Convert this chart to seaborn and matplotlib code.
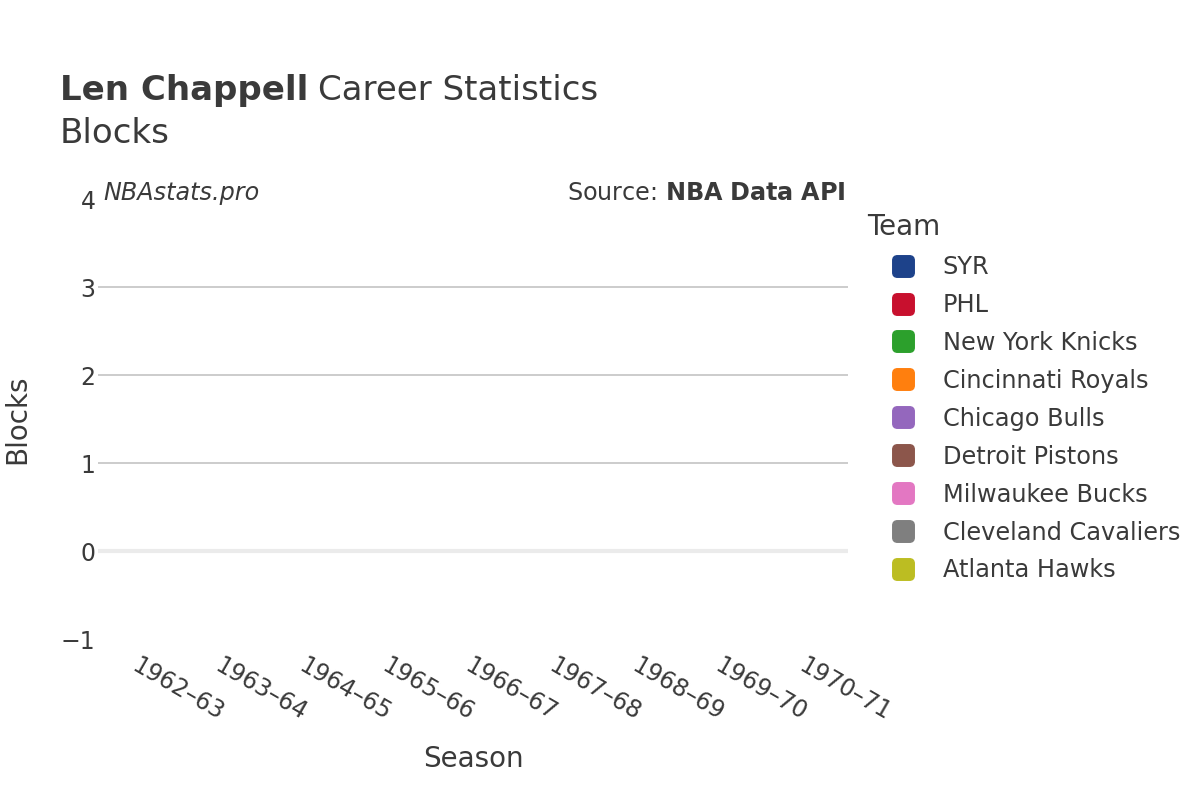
import matplotlib
matplotlib.use("Agg")
import matplotlib.pyplot as plt
from matplotlib.lines import Line2D
from matplotlib.patches import FancyBboxPatch
import numpy as np
import pandas as pd
import seaborn as sns

sns.set_style("white")
plt.rcParams['font.family'] = ['DejaVu Sans']

seasons = ['1962-63', '1963-64', '1964-65', '1965-66', '1966-67',
           '1967-68', '1968-69', '1969-70', '1970-71']
teams = ['SYR', 'PHL', 'New York Knicks', 'Cincinnati Royals', 'Chicago Bulls',
         'Detroit Pistons', 'Milwaukee Bucks', 'Cleveland Cavaliers', 'Atlanta Hawks']
team_colors = ['#1d428a', '#c8102e', '#2ca02c', '#ff7f0e', '#9467bd',
               '#8c564b', '#e377c2', '#7f7f7f', '#bcbd22']
# blocks were not recorded in these seasons -> no values
season_team = ['SYR', 'PHL', 'New York Knicks', 'New York Knicks', 'Chicago Bulls',
               'Cincinnati Royals', 'Milwaukee Bucks', 'Detroit Pistons', 'Cleveland Cavaliers']
blocks = [np.nan] * len(seasons)

df = pd.DataFrame({'Season': seasons, 'Team': season_team, 'Blocks': blocks})

txt = '#3a3a3a'
fig = plt.figure(figsize=(12, 8), dpi=100)
ax = fig.add_axes([0.082, 0.201, 0.625, 0.55])

sns.lineplot(data=df.dropna(), x='Season', y='Blocks', hue='Team',
             palette=dict(zip(teams, team_colors)), ax=ax, legend=False)

ax.set_xlim(-0.5, len(seasons) - 0.5)
ax.set_ylim(-1, 4)
ax.set_xticks(range(len(seasons)))
ax.set_xticklabels([s.replace('-', '–') for s in seasons], rotation=-30,
                   ha='left', va='top', rotation_mode='anchor', fontsize=17, color=txt)
ax.set_yticks([-1, 0, 1, 2, 3, 4])
ax.set_yticklabels(['−1', '0', '1', '2', '3', '4'], fontsize=17, color=txt)
ax.tick_params(axis='y', length=0, pad=2)
ax.tick_params(axis='x', length=0, pad=10)
for s in ax.spines.values():
    s.set_visible(False)
for y in [1, 2, 3]:
    ax.axhline(y, color='#c8c8c8', lw=1.3, zorder=0)
ax.axhline(0, color='#ebebeb', lw=3, zorder=0)

ax.set_xlabel('Season', fontsize=20, color=txt)
ax.xaxis.set_label_coords(0.5, -0.273)
ax.xaxis.label.set_va('center')
ax.set_ylabel('Blocks', fontsize=20, color=txt)
ax.yaxis.set_label_coords(-0.108, 0.5)
ax.yaxis.label.set_va('center')

t1 = fig.text(0.05, 0.887, 'Len Chappell', fontsize=24.5, fontweight='bold', color=txt, va='center')
fig.canvas.draw()
bb = t1.get_window_extent()
fig.text((bb.x1 + 10) / 1200, 0.887, 'Career Statistics', fontsize=24.5, color=txt, va='center')
fig.text(0.05, 0.833, 'Blocks', fontsize=24.5, color=txt, va='center')

ax.text(0.007, 1.015, 'NBAstats.pro', transform=ax.transAxes, fontsize=17.2,
        style='italic', color=txt, va='center', ha='left')
ax.text(0.996, 1.015, r'Source: $\bf{NBA\ Data\ API}$', transform=ax.transAxes,
        fontsize=17.2, color=txt, va='center', ha='right')

# rounded square marker
rbox = FancyBboxPatch((-0.5, -0.5), 1, 1, boxstyle='round,pad=0,rounding_size=0.22')
rpath = rbox.get_path()
handles = [Line2D([0], [0], marker=rpath, linestyle='', markersize=15.5,
                  markerfacecolor=c, markeredgecolor=c) for c in team_colors]
fig.text(867 / 1200, 1 - 227 / 800, 'Team', fontsize=20, color=txt, va='center')
leg = fig.legend(handles, teams, loc='upper left',
                 bbox_to_anchor=(891 / 1200, 1 - 255 / 800), frameon=False, fontsize=17.3,
                 borderpad=0, borderaxespad=0, handlelength=1.0,
                 labelspacing=0.58, handletextpad=1.15)
for t in leg.get_texts():
    t.set_color(txt)

fig.savefig('out.png', dpi=100)
